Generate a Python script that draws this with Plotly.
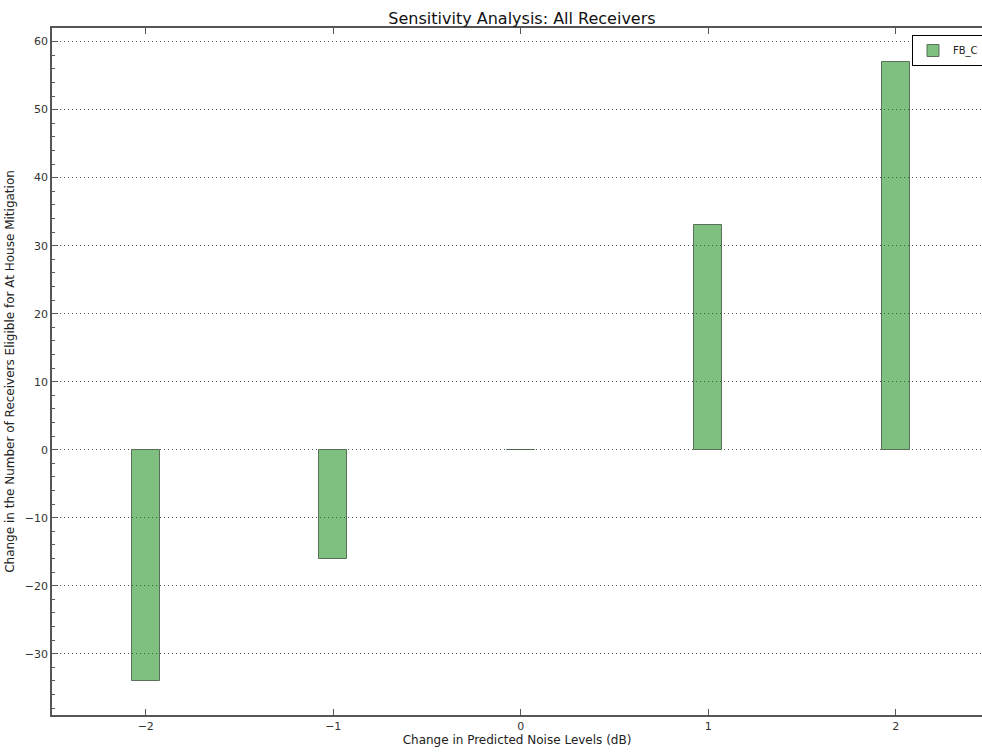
import plotly.graph_objects as go

categories = [-2, -1, 0, 1, 2]
values = [-34, -16, 0, 33, 57]
series_name = "FB_C"
y_ticks = [-30, -20, -10, 0, 10, 20, 30, 40, 50, 60]

W, H = 982, 752
ml, mt, mb, mr = 52, 28, 37, 0

fig = go.Figure()
fig.add_trace(go.Bar(
    x=categories, y=values, width=0.15, name=series_name,
    marker=dict(color="rgba(0,128,0,0.5)", line=dict(color="rgba(80,100,80,0.9)", width=1)),
    showlegend=True,
))

axis_common = dict(
    showline=True, linecolor="#555555", linewidth=1.5,
    ticks="inside", ticklen=6, tickcolor="#555555", zeroline=False, automargin=False,
    tickfont=dict(family="DejaVu Sans", size=11, color="#333333"),
)
fig.update_xaxes(
    range=[-2.5, 2.46], tickvals=categories, mirror="ticks",
    ticktext=["\u22122", "\u22121", "0", "1", "2"], showgrid=False,
    title=dict(text="Change in Predicted Noise Levels (dB)", font=dict(family="DejaVu Sans", size=12, color="#222222"), standoff=4),
    **axis_common,
)
fig.update_yaxes(
    range=[-39, 62], tickvals=y_ticks, mirror=False,
    ticktext=[("\u2212" + str(-v)) if v < 0 else str(v) for v in y_ticks],
    showgrid=True, gridcolor="#555555", griddash="1px,3px", gridwidth=1,
    minor=dict(dtick=2, ticks="inside", ticklen=3, tickcolor="#555555", showgrid=False),
    title=dict(text="Change in the Number of Receivers Eligible for At House Mitigation", font=dict(family="DejaVu Sans", size=12, color="#222222"), standoff=8),
    **axis_common,
)
fig.update_layout(
    width=W, height=H,
    margin=dict(l=ml, r=mr, t=mt, b=mb, pad=0, autoexpand=False),
    paper_bgcolor="white", plot_bgcolor="white",
    title=dict(text="Sensitivity Analysis: All Receivers", x=522 / W, xanchor="center", y=1 - 18 / H, yanchor="middle",
               font=dict(family="DejaVu Sans", size=16, color="#111111")),
    font=dict(family="DejaVu Sans"),
    legend=dict(x=(912 - ml) / (W - ml - mr), xanchor="left", y=1 - (35 - mt) / (H - mt - mb), yanchor="top",
                bordercolor="black", borderwidth=1, bgcolor="white", itemwidth=30,
                font=dict(family="DejaVu Sans", size=10, color="#222222")),
    bargap=0,
)
fig.write_html("out.html", config={"displayModeBar": False},
               post_script="document.body.style.margin='0';document.body.style.overflow='hidden';")
